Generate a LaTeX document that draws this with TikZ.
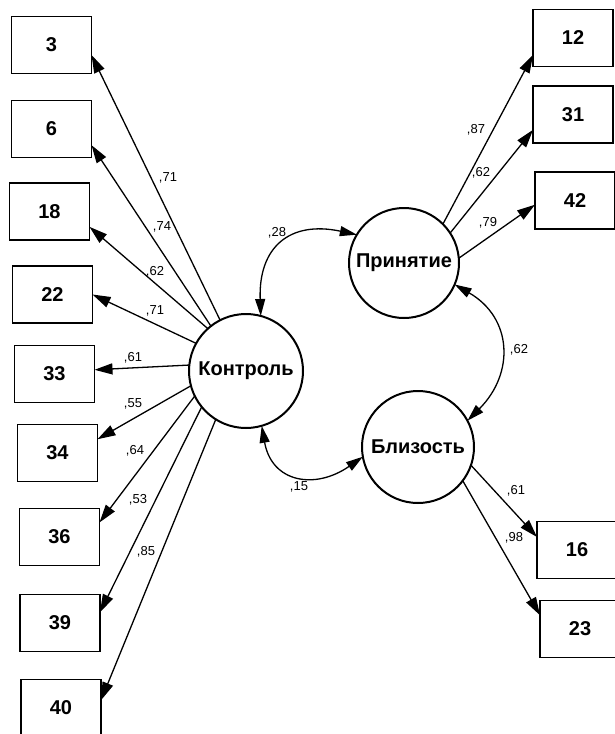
\documentclass[tikz,border=0pt]{standalone}
\usepackage{fontspec}
\setmainfont{Liberation Sans}
\usetikzlibrary{arrows.meta}
\begin{document}
\begin{tikzpicture}[x=1pt,y=1pt,
    item/.style={draw,line width=1.8pt,minimum width=80pt,minimum height=57pt,
      inner sep=0pt,outer sep=0pt,font=\fontsize{20}{24}\selectfont\bfseries},
    factor/.style={draw,circle,line width=2pt,inner sep=0pt,outer sep=0pt,
      font=\fontsize{20}{24}\selectfont\bfseries},
    weight/.style={inner sep=0pt,font=\fontsize{13}{15}\selectfont},
    load/.style={-{Triangle[length=18pt,width=11pt]},line width=1.3pt},
    cov/.style={{Triangle[length=17pt,width=10pt]}-{Triangle[length=17pt,width=10pt]},
      line width=1.3pt,looseness=1.4}]
      \useasboundingbox (0,0) rectangle (614,-734);
      \draw
        (246,-371) node[factor,minimum size=114pt] (kon){Контроль}
        (404,-263) node[factor,minimum size=110pt] (prin){Принятие}
        (418,-447) node[factor,minimum size=112pt] (blz){Близость}
        (51.5,-45) node[item] (v3){3}
        (51.5,-129) node[item] (v6){6}
        (49.5,-211.5) node[item] (v18){18}
        (52.5,-294.5) node[item] (v22){22}
        (54.5,-374) node[item] (v33){33}
        (57.5,-453) node[item] (v34){34}
        (59.5,-537) node[item] (v36){36}
        (60,-623) node[item] (v39){39}
        (61,-708) node[item] (v40){40}
        (573,-38) node[item] (v12){12}
        (573,-114.5) node[item] (v31){31}
        (575,-200.5) node[item] (v42){42}
        (577,-550) node[item] (v16){16}
        (580,-629) node[item] (v23){23};
      \draw
        (168,-178) node[weight] (w3){,71}
        (162,-227) node[weight] (w6){,74}
        (155,-272) node[weight] (w18){,62}
        (155,-311) node[weight] (w22){,71}
        (133,-358) node[weight] (w33){,61}
        (133,-404) node[weight] (w34){,55}
        (135,-451) node[weight] (w36){,64}
        (138,-500) node[weight] (w39){,53}
        (146,-552) node[weight] (w40){,85}
        (476,-130) node[weight] (w12){,87}
        (481,-173) node[weight] (w31){,62}
        (488,-223) node[weight] (w42){,79}
        (516,-491) node[weight] (w16){,61}
        (514,-538) node[weight] (w23){,98}
        (277,-233) node[weight] (wkp){,28}
        (519,-350) node[weight] (wpb){,62}
        (299,-487) node[weight] (wkb){,15};
      \begin{scope}[load]
        \draw (kon.117) to (v3.-14);
        \draw (kon.128) to (v6.-22);
        \draw (kon.132) to (v18.-21);
        \draw (kon.151) to (v22.east);
        \draw (kon.174) to (v33.6);
        \draw (kon.195) to (v34.19);
        \draw (kon.206) to (v36.20);
        \draw (kon.219) to (v39.15);
        \draw (kon.238) to (v40.11);
        \draw (prin.45) to (v12.-157);
        \draw (prin.33) to (v31.-159);
        \draw (prin.5) to (v42.-174);
        \draw (blz.-19) to (v16.162);
        \draw (blz.-37) to (v23.161);
      \end{scope}
      \begin{scope}[cov]
        \draw (kon.75) to[out=92,in=168] (prin.149);
        \draw (prin.-23) to[out=-30,in=45,looseness=1.25] (blz.28);
        \draw (kon.-74) to[out=-80,in=215] (blz.190);
      \end{scope}
    \end{tikzpicture}
\end{document}
